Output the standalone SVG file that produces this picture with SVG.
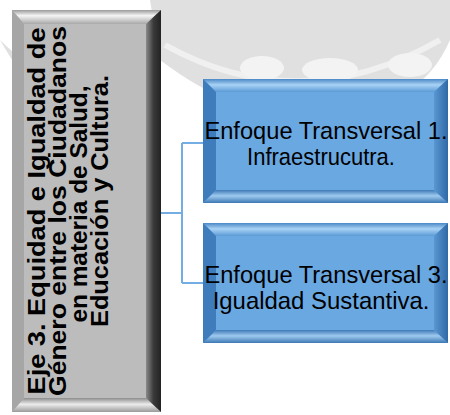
<svg xmlns="http://www.w3.org/2000/svg" width="450" height="415" viewBox="0 0 450 415">
<defs>
<linearGradient id="gR" x1="0" y1="0" x2="1" y2="0"><stop offset="0" stop-color="#8a8a8a"/><stop offset="0.5" stop-color="#3a3a3a"/><stop offset="1" stop-color="#222"/></linearGradient>
<linearGradient id="gT" x1="0" y1="0" x2="0" y2="1"><stop offset="0" stop-color="#9a9a9a"/><stop offset="0.4" stop-color="#f4f4f4"/><stop offset="1" stop-color="#a8a8a8"/></linearGradient>
<linearGradient id="gB" x1="0" y1="0" x2="0" y2="1"><stop offset="0" stop-color="#8c8c8c"/><stop offset="0.45" stop-color="#ececec"/><stop offset="1" stop-color="#9a9a9a"/></linearGradient>
<linearGradient id="bT" x1="0" y1="0" x2="0" y2="1"><stop offset="0" stop-color="#4a88c6"/><stop offset="0.45" stop-color="#a9d2f5"/><stop offset="1" stop-color="#5b9ad6"/></linearGradient>
<linearGradient id="bB" x1="0" y1="0" x2="0" y2="1"><stop offset="0" stop-color="#3f7ab6"/><stop offset="0.45" stop-color="#9fcaf0"/><stop offset="1" stop-color="#3c78b4"/></linearGradient>
<linearGradient id="bR" x1="0" y1="0" x2="1" y2="0"><stop offset="0" stop-color="#5a96d2"/><stop offset="1" stop-color="#2f6aa6"/></linearGradient>
</defs>
<style>
.wm{fill:#e0e0e0}
.blt{font-family:"Liberation Sans",Arial,sans-serif;font-size:24px;fill:#000;text-anchor:middle}
.glt{font-family:"Liberation Sans",Arial,sans-serif;font-weight:bold;font-size:24px;fill:#000;text-anchor:middle}
.con{fill:none;stroke:#74ace4;stroke-width:2}
</style>
<rect width="450" height="415" fill="#fff"/>
<g id="watermark">
<path class="wm" d="M150,0 H450 V40 Q420,110 330,110 Q260,110 230,100 Q200,90 160,60 Z"/>
<path d="M165,45 Q300,120 440,40" fill="none" stroke="#f0f0f0" stroke-width="6"/>
<ellipse cx="262" cy="68" rx="22" ry="12" fill="#f3f3f3"/>
<ellipse cx="330" cy="70" rx="28" ry="12" fill="#f3f3f3"/>
<ellipse cx="410" cy="65" rx="22" ry="12" fill="#f3f3f3"/>
<path class="wm" d="M0,40 Q30,70 60,80 L12,60 Z"/>
</g>
<g id="connectors">
<path class="con" d="M160,213 H182 M182,143 V283 M182,143 H204 M182,283 H204"/>
</g>
<g id="node-eje3">
<rect x="12" y="10" width="149" height="402" fill="#bcbcbc"/>
<polygon points="12,10 161,10 146,24 24,24" fill="url(#gT)"/>
<polygon points="12,412 161,412 146,398 24,398" fill="url(#gB)"/>
<polygon points="12,10 24,24 24,398 12,412" fill="#a6a6a6"/>
<polygon points="161,10 146,24 146,398 161,412" fill="url(#gR)"/>
<g transform="rotate(-90)">
<text class="glt" x="-211" y="45" textLength="367" lengthAdjust="spacingAndGlyphs">Eje 3. Equidad e Igualdad de</text>
<text class="glt" x="-211" y="66" textLength="370" lengthAdjust="spacingAndGlyphs">Género entre los Ciudadanos</text>
<text class="glt" x="-204" y="87" textLength="237" lengthAdjust="spacingAndGlyphs">en materia de Salud,</text>
<text class="glt" x="-201" y="108" textLength="252" lengthAdjust="spacingAndGlyphs">Educación y Cultura.</text>
</g>
</g>
<g id="node-enfoque1">
<rect x="203" y="79" width="245" height="124" fill="#6aa8e2"/>
<polygon points="203,79 448,79 434,92 216,92" fill="url(#bT)"/>
<polygon points="203,203 448,203 434,190 216,190" fill="url(#bB)"/>
<polygon points="203,79 216,92 216,190 203,203" fill="#3e7cbc"/>
<polygon points="448,79 434,92 434,190 448,203" fill="url(#bR)"/>
<text class="blt" transform="translate(326,139) scale(0.85,1)" textLength="286" lengthAdjust="spacingAndGlyphs">Enfoque Transversal 1.</text>
<text class="blt" transform="translate(321,165) scale(0.85,1)" textLength="174" lengthAdjust="spacingAndGlyphs">Infraestrucutra.</text>
</g>
<g id="node-enfoque3">
<rect x="203" y="223" width="245" height="120" fill="#6aa8e2"/>
<polygon points="203,223 448,223 434,236 216,236" fill="url(#bT)"/>
<polygon points="203,343 448,343 434,330 216,330" fill="url(#bB)"/>
<polygon points="203,223 216,236 216,330 203,343" fill="#3e7cbc"/>
<polygon points="448,223 434,236 434,330 448,343" fill="url(#bR)"/>
<text class="blt" transform="translate(326,283) scale(0.85,1)" textLength="286" lengthAdjust="spacingAndGlyphs">Enfoque Transversal 3.</text>
<text class="blt" transform="translate(321,309) scale(0.85,1)" textLength="255" lengthAdjust="spacingAndGlyphs">Igualdad Sustantiva.</text>
</g>
</svg>
